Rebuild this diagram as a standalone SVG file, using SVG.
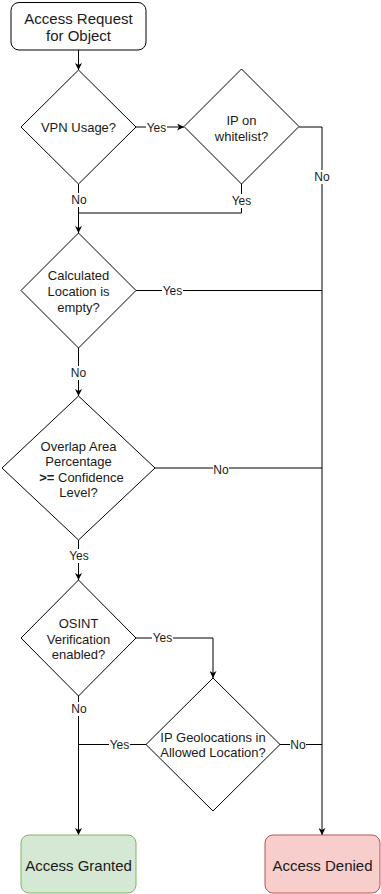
<svg xmlns="http://www.w3.org/2000/svg" width="381" height="894" viewBox="0 0 381 894">
  <style>
    .shape { fill: #ffffff; stroke: #000000; stroke-width: 1; }
    .t { font-family: "Liberation Sans", Arial, sans-serif; fill: #1a1a1a; text-anchor: middle; dominant-baseline: central; }
    .big { font-size: 15px; }
    .mid { font-size: 13px; }
    .lbl { font-family: "Liberation Sans", Arial, sans-serif; font-size: 12px; fill: #1a1a1a; text-anchor: middle; dominant-baseline: central; }
    .edge { fill: none; stroke: #000000; stroke-width: 1; }
  </style>
  <defs>
    <marker id="arrow" viewBox="0 0 10 10" refX="10" refY="5" markerWidth="7" markerHeight="7" markerUnits="userSpaceOnUse" orient="auto">
      <path d="M0,0 L10,5 L0,10 L3,5 Z" fill="#000000"/>
    </marker>
  </defs>

  <rect width="381" height="894" fill="#ffffff"/>

  <!-- connectors -->
  <g id="connectors">
    <path class="edge" d="M78.5 50 V70" marker-end="url(#arrow)"/>
    <path class="edge" d="M136 127 H184" marker-end="url(#arrow)"/>
    <path class="edge" d="M299 127 H322 V835" marker-end="url(#arrow)"/>
    <path class="edge" d="M78.5 184 V233" marker-end="url(#arrow)"/>
    <path class="edge" d="M241.5 184 V213 H78.5"/>
    <path class="edge" d="M136 290.5 H322"/>
    <path class="edge" d="M78.5 348 V396" marker-end="url(#arrow)"/>
    <path class="edge" d="M155 468 H322"/>
    <path class="edge" d="M78.5 540 V580" marker-end="url(#arrow)"/>
    <path class="edge" d="M136 638 H213 V678" marker-end="url(#arrow)"/>
    <path class="edge" d="M78.5 696 V835" marker-end="url(#arrow)"/>
    <path class="edge" d="M146 744.5 H78.5"/>
    <path class="edge" d="M280 744.5 H322"/>

    <!-- edge labels with white backgrounds -->
    <g>
      <rect x="146" y="120" width="21" height="14" fill="#ffffff"/>
      <text class="lbl" x="156.5" y="127.5">Yes</text>
      <rect x="314" y="170" width="16" height="14" fill="#ffffff"/>
      <text class="lbl" x="322" y="177">No</text>
      <rect x="71" y="193" width="16" height="14" fill="#ffffff"/>
      <text class="lbl" x="79" y="200">No</text>
      <rect x="231" y="194" width="21" height="14" fill="#ffffff"/>
      <text class="lbl" x="241.5" y="201">Yes</text>
      <rect x="162" y="284" width="21" height="14" fill="#ffffff"/>
      <text class="lbl" x="172.5" y="291">Yes</text>
      <rect x="71" y="366" width="16" height="14" fill="#ffffff"/>
      <text class="lbl" x="78.5" y="373">No</text>
      <rect x="213" y="463" width="16" height="14" fill="#ffffff"/>
      <text class="lbl" x="221" y="470">No</text>
      <rect x="68" y="549" width="21" height="14" fill="#ffffff"/>
      <text class="lbl" x="79" y="556">Yes</text>
      <rect x="152" y="631" width="21" height="14" fill="#ffffff"/>
      <text class="lbl" x="162.5" y="638">Yes</text>
      <rect x="71" y="702" width="16" height="14" fill="#ffffff"/>
      <text class="lbl" x="79" y="709">No</text>
      <rect x="109" y="738" width="21" height="14" fill="#ffffff"/>
      <text class="lbl" x="119.5" y="745">Yes</text>
      <rect x="290" y="738" width="16" height="14" fill="#ffffff"/>
      <text class="lbl" x="298" y="745">No</text>
    </g>
  </g>

  <g id="start">
    <rect class="shape" x="11" y="2.5" width="135" height="47.5" rx="8"/>
    <text class="t big" x="78.5" y="18">Access Request</text>
    <text class="t big" x="78.5" y="35.5">for Object</text>
  </g>

  <g id="vpn">
    <path class="shape" d="M78.5 70 L136 127 L78.5 184 L21 127 Z"/>
    <text class="t mid" x="78.5" y="127">VPN Usage?</text>
  </g>

  <g id="whitelist">
    <path class="shape" d="M241.5 69 L299 126.5 L241.5 184 L184 126.5 Z"/>
    <text class="t mid" x="241.5" y="120">IP on</text>
    <text class="t mid" x="241.5" y="136">whitelist?</text>
  </g>

  <g id="location-empty">
    <path class="shape" d="M78.5 233 L136 290.5 L78.5 348 L21 290.5 Z"/>
    <text class="t mid" x="78.5" y="275">Calculated</text>
    <text class="t mid" x="78.5" y="291">Location is</text>
    <text class="t mid" x="78.5" y="307">empty?</text>
  </g>

  <g id="overlap">
    <path class="shape" d="M78.5 396 L155 468 L78.5 540 L2 468 Z"/>
    <text class="t mid" x="78.5" y="446.5">Overlap Area</text>
    <text class="t mid" x="78.5" y="461.5">Percentage</text>
    <text class="t mid" x="81.5" y="477"><tspan font-weight="bold">&gt;=</tspan> Confidence</text>
    <text class="t mid" x="78.5" y="492.5">Level?</text>
  </g>

  <g id="osint">
    <path class="shape" d="M78.5 580 L136 638 L78.5 696 L21 638 Z"/>
    <text class="t mid" x="78.5" y="623">OSINT</text>
    <text class="t mid" x="78.5" y="639">Verification</text>
    <text class="t mid" x="78.5" y="654">enabled?</text>
  </g>

  <g id="geolocation">
    <path class="shape" d="M213 678 L280 744.5 L213 811 L146 744.5 Z" fill="none"/>
    <text class="t mid" x="213" y="737">IP Geolocations in</text>
    <text class="t mid" x="213" y="752.5">Allowed Location?</text>
  </g>

  <g id="granted">
    <rect x="21" y="835" width="115" height="58" rx="8" fill="#d5e8d4" stroke="#82b366"/>
    <text class="t big" x="78.5" y="865">Access Granted</text>
  </g>

  <g id="denied">
    <rect x="265" y="835" width="115" height="58" rx="8" fill="#f8cecc" stroke="#b85450"/>
    <text class="t big" x="322.5" y="865">Access Denied</text>
  </g>
</svg>
